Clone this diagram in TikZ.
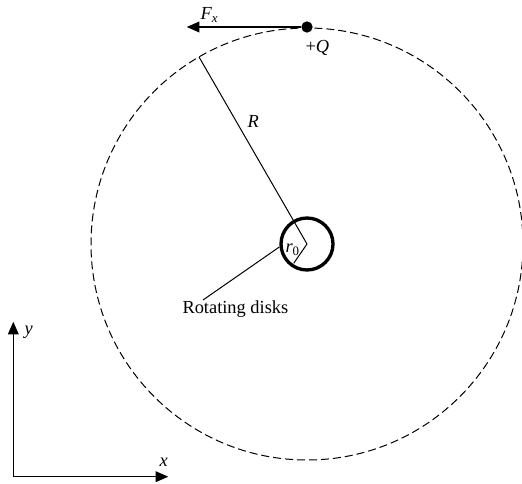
\documentclass[tikz,border=0pt]{standalone}
\usepackage{fontspec}
\setmainfont{Liberation Serif}
\usetikzlibrary{arrows.meta}

\begin{document}
\begin{tikzpicture}[>={Triangle[length=9.5pt, width=8pt]}, x=0.75pt, y=0.75pt, line width=0.75pt,
    font=\fontsize{13.8}{16}\selectfont,
    lbl/.style={anchor=base west, inner sep=0pt}]
  \useasboundingbox (0,0) rectangle (522,483);
  % orbit, disks and charge
  \coordinate (O) at (307,239);
  \node[circle, draw, dash pattern=on 6pt off 3pt, minimum size=324pt, inner sep=0pt, outer sep=0pt] (orbit) at (O) {};
  \node[circle, draw, line width=2.5pt, minimum size=39pt, inner sep=0pt] (disk) at (O) {};
  \node[circle, fill, minimum size=8.5pt, inner sep=0pt] (Q) at (307,456) {};
  \coordinate (Fend) at (186.7,456); \coordinate (r0end) at (293.7,219.7);
  \coordinate (tip) at (203,183);
  \draw[->, line width=1.1pt] (Q) -- (Fend); \node[lbl] (Fx) at (200,463) {\textit{F}\textsubscript{\textit{x}}};
  \node[lbl] (charge) at (305,430) {+\textit{Q}};
  \draw (O) -- (orbit.120); \node[lbl] (Rlbl) at (247,355) {\textit{R}};
  \draw (O) -- (r0end); \node[lbl] (r0) at (285,230) {\textit{r}\textsubscript{0}};
  \draw (disk.186) -- (tip); \node[lbl] (disks) at (182,170) {Rotating disks};
  % axes
  \coordinate (origin) at (13.3,6.3); \coordinate (yend) at (13.3,161.3); \coordinate (xend) at (168.3,6.3);
  \draw[->, line width=1.1pt] (origin) -- (yend); \node[lbl] (ylbl) at (24,149) {\textit{y}};
  \draw[->, line width=1.1pt] (origin) -- (xend); \node[lbl] (xlbl) at (159,17) {\textit{x}};
\end{tikzpicture}
\end{document}
